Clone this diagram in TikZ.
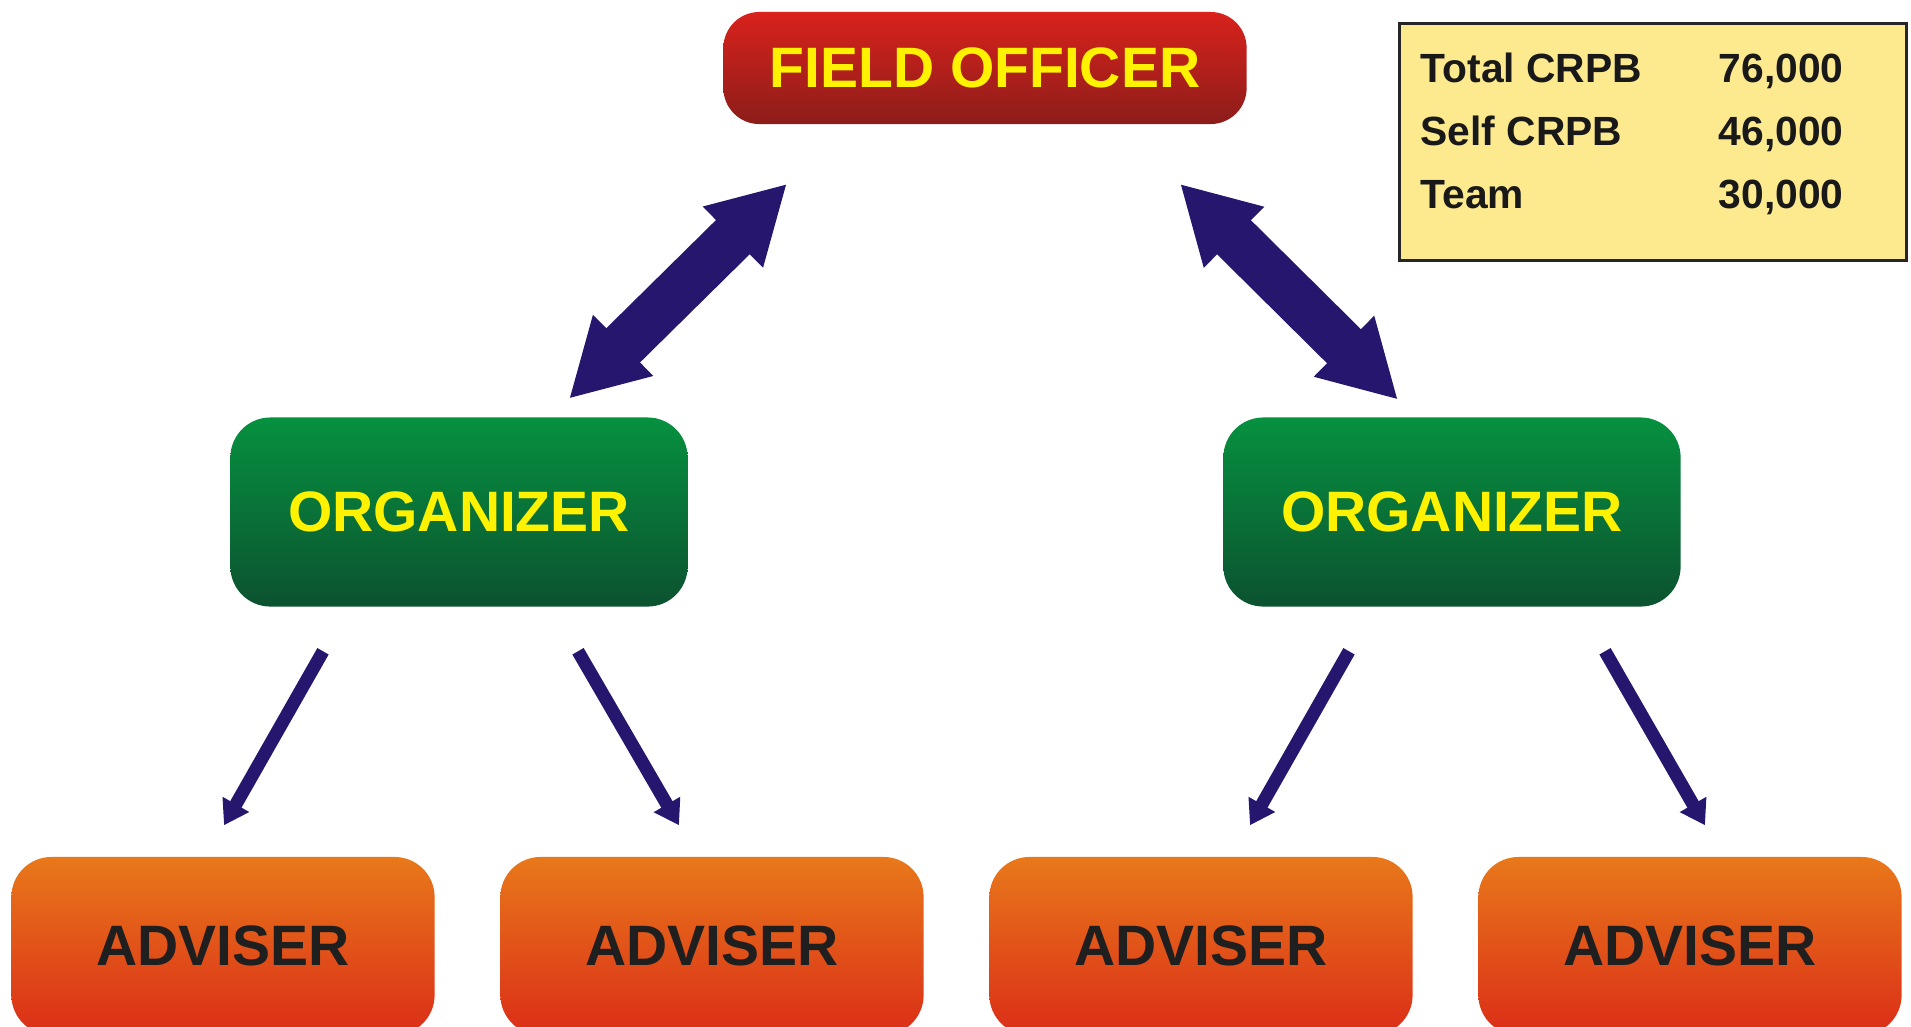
\documentclass[tikz,border=0pt]{standalone}
\usepackage{fontspec}
\setmainfont{Liberation Sans}
\usepackage{tikz}
\usetikzlibrary{arrows.meta,calc}

\definecolor{officertop}{HTML}{D9221C}
\definecolor{officerbottom}{HTML}{8C1D1A}
\definecolor{organizertop}{HTML}{06913F}
\definecolor{organizerbottom}{HTML}{0C5230}
\definecolor{advisertop}{HTML}{E8781A}
\definecolor{adviserbottom}{HTML}{DB2E18}
\definecolor{labelyellow}{HTML}{FFF200}
\definecolor{summaryfill}{HTML}{FDEA8E}
\definecolor{arrowblue}{HTML}{26166E}

\tikzset{
    box/.style = {
        shape=rectangle,
        rounded corners=0.4cm,
        inner sep=0pt,
        font=\fontsize{16.2}{19}\selectfont\bfseries
    },
    officer/.style = {
        box,
        minimum width=5.23cm,
        minimum height=1.12cm,
        rounded corners=0.36cm,
        top color=officertop,
        bottom color=officerbottom,
        text=labelyellow
    },
    organizer/.style = {
        box,
        minimum width=4.57cm,
        minimum height=1.89cm,
        top color=organizertop,
        bottom color=organizerbottom,
        text=labelyellow
    },
    adviser/.style = {
        box,
        minimum width=4.23cm,
        minimum height=1.78cm,
        top color=advisertop,
        bottom color=adviserbottom,
        text=black!88
    },
    summary/.style = {
        draw=black!85,
        shape=rectangle,
        minimum width=5.06cm,
        minimum height=2.37cm,
        line width=0.03cm,
        fill=summaryfill
    },
    entry/.style = {
        anchor=base west,
        inner sep=0pt,
        text=black!90,
        font=\fontsize{11.6}{14}\selectfont\bfseries
    },
    link/.style = {
        draw=arrowblue,
        line width=0.48cm,
        {Triangle[length=0.76cm,width=0.8cm]}-{Triangle[length=0.76cm,width=0.8cm]}
    },
    feed/.style = {
        draw=arrowblue,
        line width=0.13cm,
        -{Triangle[length=0.24cm,width=0.29cm]}
    },
}

\begin{document}
\begin{tikzpicture}[x=0.01cm,y=-0.01cm]
            \clip (0,0) rectangle (1911,1026);

            \node[officer] (officer) at (985,68) {FIELD OFFICER};
            \node[organizer] (orgleft) at (459,512) {ORGANIZER};
            \node[organizer] (orgright) at (1452,512) {ORGANIZER};
            \node[adviser] (adv1) at (223,946) {ADVISER};
            \node[adviser] (adv2) at (712,946) {ADVISER};
            \node[adviser] (adv3) at (1201,946) {ADVISER};
            \node[adviser] (adv4) at (1690,946) {ADVISER};

            % summary box
            \node[summary] (summary) at (1653,142) {};
            \node[entry] (totallabel) at (1420,82) {Total CRPB};
            \node[entry] (totalvalue) at (1718,82) {76,000};
            \node[entry] (selflabel) at (1420,145) {Self CRPB};
            \node[entry] (selfvalue) at (1718,145) {46,000};
            \node[entry] (teamlabel) at (1420,208) {Team};
            \node[entry] (teamvalue) at (1718,208) {30,000};

            \path[link] ([shift={(110,-18)}]orgleft.north) -- ([shift={(-198,59)}]officer.south);
            \path[link] ([shift={(195,59)}]officer.south) -- ([shift={(-54,-17)}]orgright.north);

            \path[feed] ([shift={(-136,44)}]orgleft.south) -- ([shift={(1,-31)}]adv1.north);
            \path[feed] ([shift={(119,44)}]orgleft.south) -- ([shift={(-33,-31)}]adv2.north);
            \path[feed] ([shift={(-103,44)}]orgright.south) -- ([shift={(49,-31)}]adv3.north);
            \path[feed] ([shift={(153,44)}]orgright.south) -- ([shift={(15,-31)}]adv4.north);
\end{tikzpicture}
\end{document}
